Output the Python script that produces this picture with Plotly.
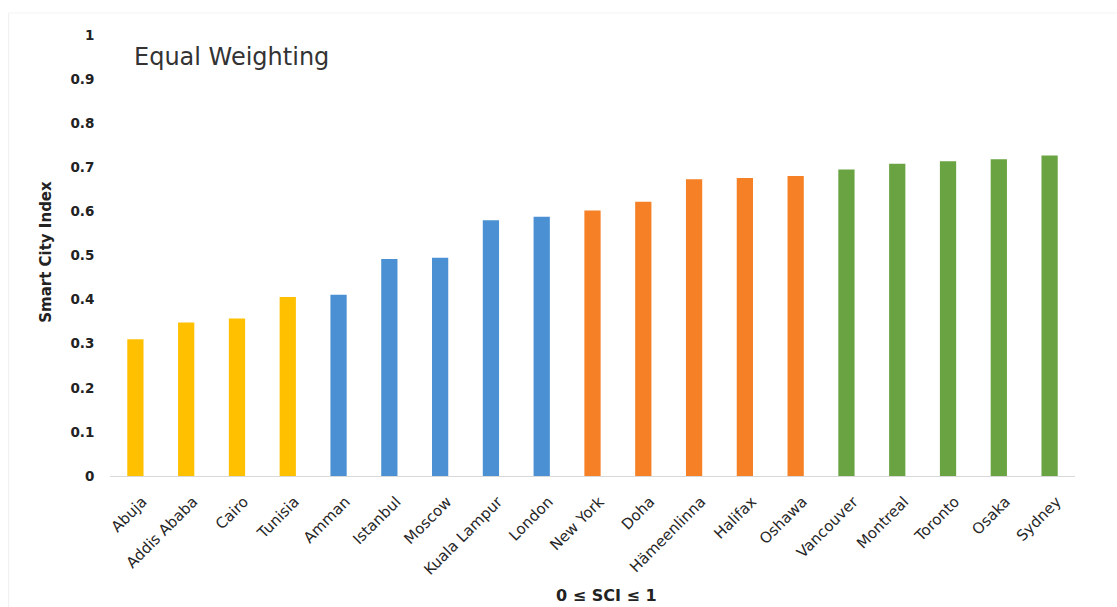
import plotly.graph_objects as go

cities = ["Abuja", "Addis Ababa", "Cairo", "Tunisia", "Amman", "Istanbul", "Moscow",
          "Kuala Lampur", "London", "New York", "Doha", "Hämeenlinna", "Halifax", "Oshawa",
          "Vancouver", "Montreal", "Toronto", "Osaka", "Sydney"]
sci = [0.310, 0.348, 0.357, 0.406, 0.411, 0.492, 0.495,
       0.580, 0.588, 0.602, 0.622, 0.673, 0.676, 0.680,
       0.695, 0.708, 0.714, 0.718, 0.727]
groups = ["low"] * 4 + ["mid"] * 5 + ["high"] * 5 + ["top"] * 5
group_colors = {"low": "#FFC000", "mid": "#4A90D2", "high": "#F58025", "top": "#6AA442"}
y_ticks = [0, 0.1, 0.2, 0.3, 0.4, 0.5, 0.6, 0.7, 0.8, 0.9, 1]
y_tick_labels = ["0", "0.1", "0.2", "0.3", "0.4", "0.5", "0.6", "0.7", "0.8", "0.9", "1"]

fig = go.Figure(go.Bar(
    x=cities, y=sci,
    marker=dict(color=[group_colors[g] for g in groups], line=dict(width=0)),
    width=0.32,
))

font_family = "DejaVu Sans, sans-serif"

fig.update_layout(
    width=1117, height=607,
    margin=dict(l=110, r=42, t=35, b=131),
    paper_bgcolor="white", plot_bgcolor="white",
    showlegend=False,
    font=dict(family=font_family, color="#333333"),
)
fig.update_yaxes(
    range=[0, 1], tickvals=y_ticks, ticktext=["<b>%s</b>" % t for t in y_tick_labels],
    showgrid=False, zeroline=False, showline=False,
    tickfont=dict(size=13.5, color="#222222"),
    ticks="outside", ticklen=12, tickcolor="white",
)
fig.update_xaxes(
    showgrid=False, showline=True, linecolor="#d9d9d9", linewidth=1,
    tickangle=-45, tickfont=dict(size=15, color="#262626"),
    ticks="outside", ticklen=10, tickcolor="white",
    ticklabelshift=7,
)

fig.add_annotation(text="Equal Weighting", xref="paper", yref="paper",
                   x=0.0233, y=0.95, xanchor="left", yanchor="middle",
                   showarrow=False, font=dict(size=24, color="#333333", family=font_family))
fig.add_annotation(text="<b>Smart City Index</b>", xref="paper", yref="paper",
                   x=-0.0665, y=0.508, xanchor="center", yanchor="middle", textangle=-90,
                   showarrow=False,
                   font=dict(size=15, color="#222222", family=font_family))
fig.add_annotation(text="<b>0 ≤ SCI ≤ 1</b>", xref="paper", yref="paper",
                   x=0.514, y=-0.27, xanchor="center", yanchor="middle",
                   showarrow=False, font=dict(size=16, color="#222222", family=font_family))

fig.add_shape(type="line", xref="paper", yref="paper", x0=-0.105, x1=-0.105, y0=1.05, y1=-0.3,
              line=dict(color="#eeeeee", width=1))
fig.add_shape(type="line", xref="paper", yref="paper", x0=-0.105, x1=1.05, y0=1.05, y1=1.05,
              line=dict(color="#f4f4f4", width=1))

fig.write_html("out.html")
